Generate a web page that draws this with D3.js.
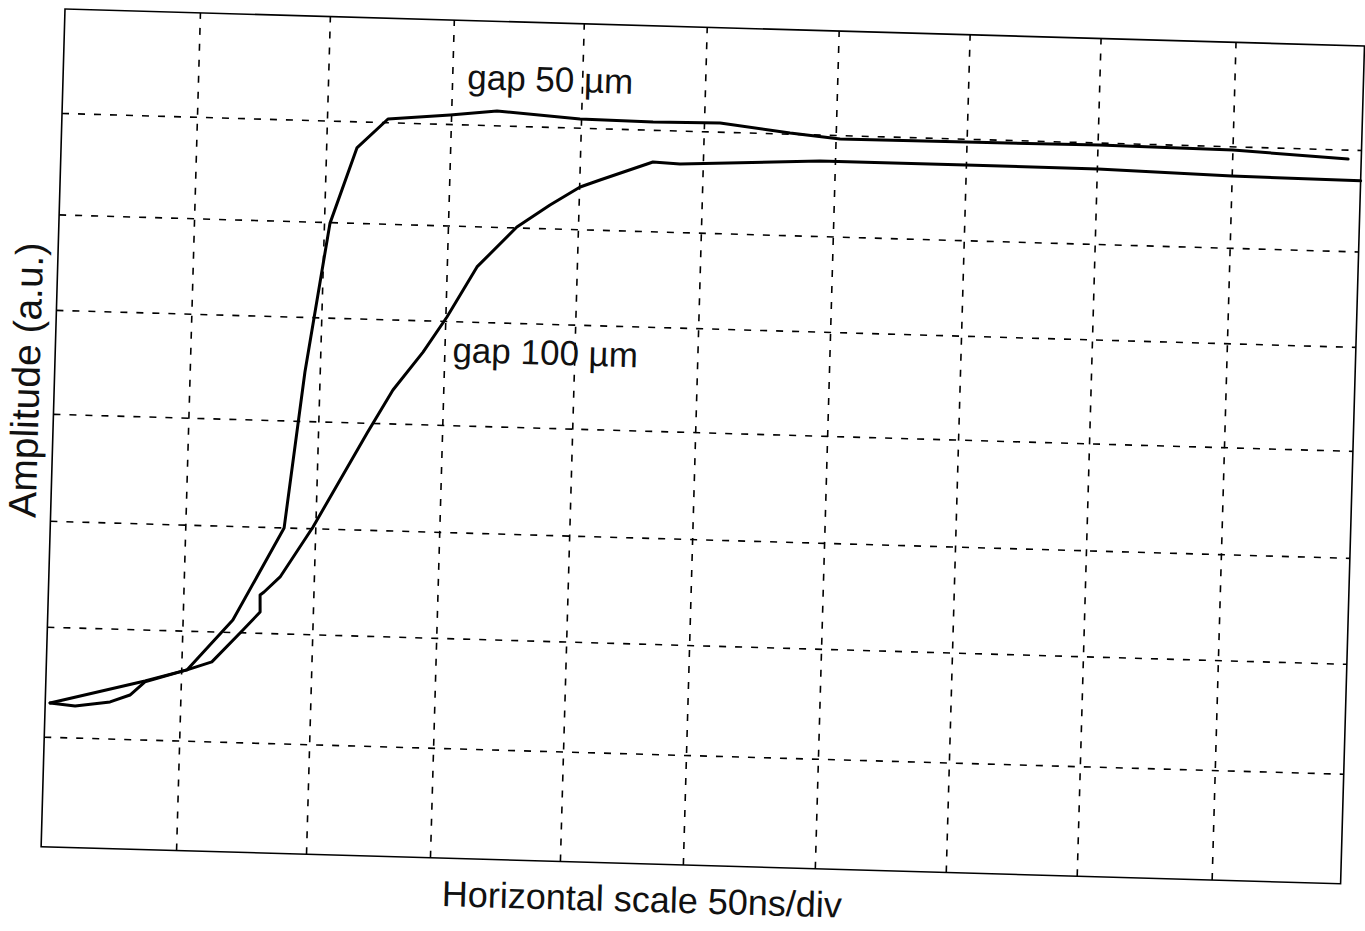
<!DOCTYPE html>
<html>
<head>
<meta charset="utf-8">
<script src="https://cdn.jsdelivr.net/npm/d3@7"></script>
<style>
  html, body { margin: 0; padding: 0; background: #fff; }
  svg { display: block; }
  text { font-family: "Liberation Sans", Arial, Helvetica, sans-serif; fill: #111; }
</style>
</head>
<body>
<svg id="chart" width="1365" height="931"></svg>
<script>
// Oscilloscope trace of the signal amplitude for two electrode gaps.
// Horizontal: time in ns (50 ns per division, 10 divisions).
// Vertical: amplitude in arbitrary units (one unit per division, 8 divisions).

const gap50Time = [1.8, 36.7, 52.2, 69.3, 88.0, 94.3, 102.4, 112.4, 124.6, 149.6, 167.6, 199.6,
                   229.3, 256.1, 282.7, 301.7, 349.8, 400.6, 450.2, 494.9];
const gap50Amp  = [1.308, 1.533, 1.644, 2.113, 2.994, 4.471, 5.987, 6.738, 7.031, 7.087, 7.138, 7.084,
                   7.075, 7.084, 7.007, 6.962, 6.967, 6.975, 6.964, 6.907];

const gap100Time = [1.8, 11.1, 24.0, 31.3, 36.7, 52.2, 61.7, 73.3, 79.7, 79.5, 81.0, 87.0, 99.1,
                    119.8, 129.7, 141.4, 150.6, 161.6, 176.5, 189.0, 200.4, 208.4, 229.7, 240.7,
                    294.3, 350.0, 400.4, 450.1, 500.0];
const gap100Amp  = [1.308, 1.287, 1.333, 1.401, 1.524, 1.644, 1.723, 2.022, 2.196, 2.357, 2.386, 2.532, 3.012,
                    3.905, 4.322, 4.695, 5.042, 5.575, 6.005, 6.231, 6.416, 6.491, 6.683, 6.671,
                    6.740, 6.741, 6.739, 6.707, 6.696];

const timeDivs  = [0, 50, 100, 150, 200, 250, 300, 350, 400, 450, 500];
const ampDivs   = [0, 1, 2, 3, 4, 5, 6, 7, 8];
const timeTicks = [50, 100, 150, 200, 250, 300, 350, 400, 450];
const ampTicks  = [1, 2, 3, 4, 5, 6, 7];

const seriesLabels = ["gap 50 \u00b5m", "gap 100 \u00b5m"];
const xTitle = "Horizontal scale 50ns/div";
const yTitle = "Amplitude (a.u.)";

// ---- layout ----
const W = 1300, H = 838;
const tilt = 1.633; // the whole sheet sits slightly askew

// graticule division edges on the screen (the screen's divisions are not perfectly even)
const divEdgesX = [0, 135, 265, 389, 519, 642, 774, 905, 1036, 1171, W];
const divEdgesY = [H, 728, 618, 512, 405, 301, 205.5, 104, 0];

const svg = d3.select("#chart");
const g = svg.append("g").attr("transform", `translate(65,9) rotate(${tilt})`);

const x = d3.scaleLinear().domain(timeDivs).range(divEdgesX);
const y = d3.scaleLinear().domain(ampDivs).range(divEdgesY);

// dashed division grid
const gridX = g.append("g")
  .attr("transform", `translate(0,${H})`)
  .call(d3.axisBottom(x).tickValues(timeTicks).tickSize(-H).tickFormat(""));
const gridY = g.append("g")
  .call(d3.axisLeft(y).tickValues(ampTicks).tickSize(-W).tickFormat(""));
[gridX, gridY].forEach(ax => {
  ax.select(".domain").remove();
  ax.selectAll(".tick line")
    .attr("stroke", "#000")
    .attr("stroke-width", 1.6)
    .attr("stroke-dasharray", "7,9");
});

// screen frame
g.append("rect")
  .attr("x", 0).attr("y", 0).attr("width", W).attr("height", H)
  .attr("fill", "none").attr("stroke", "#000").attr("stroke-width", 1.6);

// traces
const line = d3.line().x(d => x(d[0])).y(d => y(d[1]));
const traces = [
  d3.zip(gap50Time, gap50Amp),
  d3.zip(gap100Time, gap100Amp)
];
g.selectAll("path.trace").data(traces).join("path")
  .attr("class", "trace")
  .attr("d", line)
  .attr("fill", "none")
  .attr("stroke", "#000")
  .attr("stroke-width", 3)
  .attr("stroke-linejoin", "round")
  .attr("stroke-linecap", "round");

// trace labels
const labelPos = [[155.8, 7.341], [153.1, 4.608]];
g.selectAll("text.lbl").data(seriesLabels).join("text")
  .attr("class", "lbl")
  .attr("x", (d, i) => x(labelPos[i][0]))
  .attr("y", (d, i) => y(labelPos[i][1]))
  .attr("font-size", 35)
  .text(d => d);

// axis titles
g.append("text")
  .attr("x", 602).attr("y", H + 48)
  .attr("text-anchor", "middle")
  .attr("font-size", 36)
  .text(xTitle);

g.append("text")
  .attr("transform", `translate(-15,372) rotate(-90)`)
  .attr("text-anchor", "middle")
  .attr("font-size", 39)
  .text(yTitle);
</script>
</body>
</html>
